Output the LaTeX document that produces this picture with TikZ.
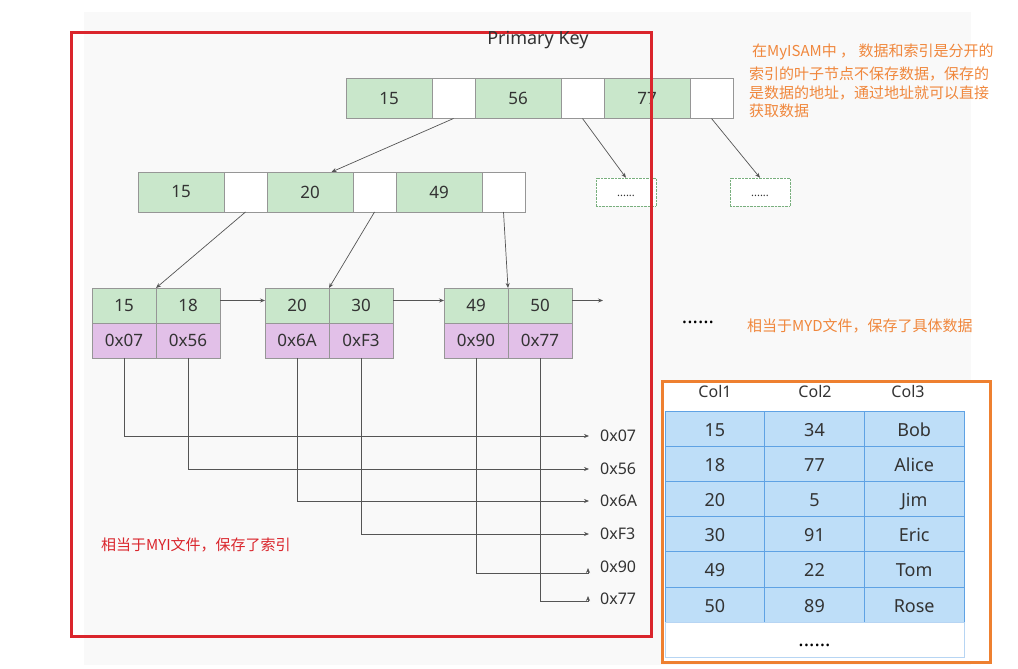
\documentclass[tikz,border=0pt]{standalone}
\usepackage{fontspec}
\setmainfont{Noto Sans}
\newfontfamily\cjk{Noto Sans CJK SC}
\usepackage{xcolor}
\usepackage{tikz}
\usetikzlibrary{positioning,calc,arrows.meta}

\definecolor{bgGray}{RGB}{249,249,249}
\definecolor{keyGreen}{RGB}{201,231,203}
\definecolor{addrPurple}{RGB}{226,192,232}
\definecolor{cellBorder}{RGB}{150,150,150}
\definecolor{moreGreen}{RGB}{120,175,125}
\definecolor{lineGray}{RGB}{85,85,85}
\definecolor{textGray}{RGB}{51,51,51}
\definecolor{boxRed}{RGB}{218,37,44}
\definecolor{boxOrange}{RGB}{238,128,48}
\definecolor{noteOrange}{RGB}{240,135,60}
\definecolor{rowBlue}{RGB}{190,222,248}
\definecolor{rowBorder}{RGB}{95,162,228}

\begin{document}
\begin{tikzpicture}[
	x=1pt, y=-1pt,
	cell/.style={draw=cellBorder, outer sep=0pt, inner sep=0pt, text=textGray, font=\fontsize{17}{20}\selectfont},
	key/.style={cell, fill=keyGreen, minimum width=86pt, minimum height=40pt},
	ptr/.style={cell, fill=white, minimum width=43pt, minimum height=40pt},
	leafkey/.style={cell, fill=keyGreen, minimum width=64pt, minimum height=35pt},
	leafaddr/.style={cell, fill=addrPurple, minimum width=64pt, minimum height=35pt},
	more/.style={draw=moreGreen, densely dotted, fill=white, minimum width=60pt, minimum height=28pt, text height=9pt, text=textGray, font=\fontsize{11}{13}\selectfont},
	arrow/.style={-{Stealth[length=5pt,width=4pt]}, lineGray, line width=0.7pt},
	addrlbl/.style={anchor=west, inner sep=0pt, text=textGray, font=\fontsize{16}{19}\selectfont},
	note/.style={anchor=base west, inner sep=0pt, font=\cjk\fontsize{15}{18}\selectfont},
	rowcell/.style={draw=rowBorder, fill=rowBlue, line width=0.7pt, minimum width=99.7pt, minimum height=35.2pt, text height=15pt, text depth=0pt, inner sep=0pt, outer sep=0pt, text=textGray, font=\fontsize{18}{21}\selectfont},
	colhead/.style={anchor=base, inner sep=0pt, text=textGray, font=\fontsize{16}{19}\selectfont},
	bigdots/.style={inner sep=0pt, text=black, font=\bfseries\fontsize{20}{22}\selectfont}
	]
	\useasboundingbox (0,0) rectangle (1018,669);
	% ===== BACKGROUND =====
	\fill[bgGray] (84,12) rectangle (971,665);
	\draw[boxOrange, line width=3pt, fill=white] (662,381) rectangle (990,662);
	
	% ===== ROOT =====
	\node[key] (t1) at (389,98.5) {15};
	\node[ptr, right=0pt of t1] (t1p) {};
	\node[key, right=0pt of t1p] (t2) {56};
	\node[ptr, right=0pt of t2] (t2p) {};
	\node[key, right=0pt of t2p] (t3) {77};
	\node[ptr, right=0pt of t3] (t3p) {};
	
	% ===== LEVEL 1 =====
	\node[key] (m1) at (181,192) {15};
	\node[ptr, right=0pt of m1] (m1p) {};
	\node[key, right=0pt of m1p] (m2) {20};
	\node[ptr, right=0pt of m2] (m2p) {};
	\node[key, right=0pt of m2p] (m3) {49};
	\node[ptr, right=0pt of m3] (m3p) {};
	
	\node[more] (d1) at (626,192) {......};
	\node[more] (d2) at (760,192) {......};
	
	% ===== LEAVES =====
	\node[leafkey] (l1a) at (124,305.5) {15};
	\node[leafkey, right=0pt of l1a] (l1b) {18};
	\node[leafaddr, below=0pt of l1a] (a1) {0x07};
	\node[leafaddr, below=0pt of l1b] (a2) {0x56};
	
	\node[leafkey] (l2a) at (297,305.5) {20};
	\node[leafkey, right=0pt of l2a] (l2b) {30};
	\node[leafaddr, below=0pt of l2a] (a3) {0x6A};
	\node[leafaddr, below=0pt of l2b] (a4) {0xF3};
	
	\node[leafkey] (l3a) at (476,305.5) {49};
	\node[leafkey, right=0pt of l3a] (l3b) {50};
	\node[leafaddr, below=0pt of l3a] (a5) {0x90};
	\node[leafaddr, below=0pt of l3b] (a6) {0x77};
	
	% ===== ARROWS =====
	\draw[arrow] (t1p.south) -- ($(m1.north west)!0.5!(m3p.north east)$);
	\draw[arrow] (t2p.south) -- (d1.north);
	\draw[arrow] (t3p.south) -- (d2.north);
	
	\draw[arrow] (m1p.south) -- (l1a.north east);
	\draw[arrow] (m2p.south) -- (l2a.north east);
	\draw[arrow] (m3p.south) -- (l3a.north east);
	
	\coordinate (chainEnd) at (603,300.5);
	\draw[arrow] ([yshift=5pt]l1b.east) -- ([yshift=5pt]l2a.west);
	\draw[arrow] ([yshift=5pt]l2b.east) -- ([yshift=5pt]l3a.west);
	\draw[arrow] ([yshift=5pt]l3b.east) -- (chainEnd);
	
	% ===== ADDRESSES =====
	\node[addrlbl] (o1) at (600,436) {0x07};
	\node[addrlbl] (o2) at (600,469) {0x56};
	\node[addrlbl] (o3) at (600,501) {0x6A};
	\node[addrlbl] (o4) at (600,534) {0xF3};
	\node[addrlbl] (o5) at (600,567) {0x90};
	\node[addrlbl] (o6) at (600,599) {0x77};
	
	\draw[arrow] (a1.south) |- ([xshift=-11pt]o1.west);
	\draw[arrow] (a2.south) |- ([xshift=-11pt]o2.west);
	\draw[arrow] (a3.south) |- ([xshift=-11pt]o3.west);
	\draw[arrow] (a4.south) |- ([xshift=-11pt]o4.west);
	\draw[arrow] (a5.south) |- ([xshift=-12pt,yshift=-6pt]o5.west) -- ([xshift=-12pt,yshift=-1pt]o5.west);
	\draw[arrow] (a6.south) |- ([xshift=-12pt,yshift=-2pt]o6.west) -- ([xshift=-12pt,yshift=3pt]o6.west);
	
	% ===== TABLE =====
	\node[colhead] (h1) at (715,397) {Col1};
	\node[colhead] (h2) at (815,397) {Col2};
	\node[colhead] (h3) at (908,397) {Col3};
	
	\node[rowcell] (r1c1) at (714.8,428.6) {15};
	\node[rowcell, right=0pt of r1c1] (r1c2) {34};
	\node[rowcell, right=0pt of r1c2] (r1c3) {Bob};
	\node[rowcell, below=0pt of r1c1] (r2c1) {18};
	\node[rowcell, right=0pt of r2c1] (r2c2) {77};
	\node[rowcell, right=0pt of r2c2] (r2c3) {Alice};
	\node[rowcell, below=0pt of r2c1] (r3c1) {20};
	\node[rowcell, right=0pt of r3c1] (r3c2) {5};
	\node[rowcell, right=0pt of r3c2] (r3c3) {Jim};
	\node[rowcell, below=0pt of r3c1] (r4c1) {30};
	\node[rowcell, right=0pt of r4c1] (r4c2) {91};
	\node[rowcell, right=0pt of r4c2] (r4c3) {Eric};
	\node[rowcell, below=0pt of r4c1] (r5c1) {49};
	\node[rowcell, right=0pt of r5c1] (r5c2) {22};
	\node[rowcell, right=0pt of r5c2] (r5c3) {Tom};
	\node[rowcell, below=0pt of r5c1] (r6c1) {50};
	\node[rowcell, right=0pt of r6c1] (r6c2) {89};
	\node[rowcell, right=0pt of r6c2] (r6c3) {Rose};
	\node[rowcell, fill=white, draw=rowBorder!45, minimum width=299.1pt, text height=14pt, below=0pt of r6c2, font=\bfseries\fontsize{20}{22}\selectfont, text=black] (tblMore) {......};
	
	% ===== FILE BOXES =====
	\draw[boxRed, line width=3pt] (71,33) rectangle (651,636);
	\node[anchor=base, inner sep=0pt, text=textGray, font=\fontsize{18}{21}\selectfont] (pk) at (538,45) {Primary Key};
	
	% ===== NOTES =====
	\node[note, text=noteOrange] (n1) at (752,57) {在MyISAM中 ， 数据和索引是分开的};
	\node[note, text=noteOrange] (n2) at (749,80) {索引的叶子节点不保存数据，保存的};
	\node[note, text=noteOrange] (n3) at (749,99) {是数据的地址，通过地址就可以直接};
	\node[note, text=noteOrange] (n4) at (749,117) {获取数据};
	\node[bigdots, anchor=base] (gap) at (698,323) {......};
	\node[note, text=noteOrange] (myd) at (747,331) {相当于MYD文件，保存了具体数据};
	\node[note, text=boxRed] (myi) at (101,550) {相当于MYI文件，保存了索引};
\end{tikzpicture}
\end{document}
